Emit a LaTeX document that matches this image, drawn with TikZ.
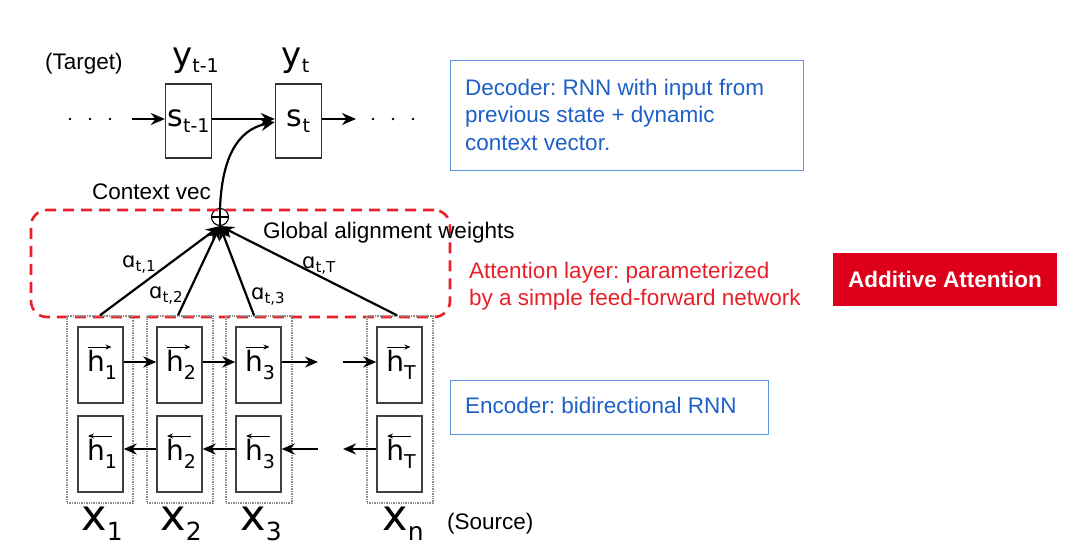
\documentclass[tikz,border=0pt]{standalone}
\usepackage{fontspec}
\setmainfont{Liberation Sans}
\newfontfamily\dvs{DejaVu Sans}
\usetikzlibrary{arrows.meta}
\definecolor{dblue}{RGB}{30,95,200}
\definecolor{bblue}{RGB}{95,150,225}
\definecolor{ared}{RGB}{232,32,42}
\definecolor{bred}{RGB}{222,0,26}
\frenchspacing
% symbol label: size, letter, subsize, lowering, subscript
\newcommand\lab[5]{{\dvs\fontsize{#1}{#1}\selectfont #2\raisebox{#4}{\fontsize{#3}{#3}\selectfont #5}}}
\newcommand\hlab[1]{\hspace{3pt}\lab{28}{h}{19}{-8pt}{#1}}
\newcommand\alab[1]{\lab{21}{ɑ}{15}{-4pt}{#1}}
\begin{document}
\begin{tikzpicture}[x=1pt,y=-1pt,
  txt/.style={font=\fontsize{22.5}{27.5}\selectfont, inner sep=0, anchor=base west},
  conn/.style={line width=2.2pt, -{Stealth[length=14pt,width=12pt]}},
  econn/.style={line width=2pt, -{Stealth[length=13pt,width=11pt]}},
  sbox/.style={draw=black!80, line width=1.3pt, minimum width=46pt, minimum height=74pt, inner sep=0},
  colbox/.style={draw=black!45, densely dotted, line width=1.4pt, minimum width=66pt, minimum height=187pt, inner sep=0},
  hbox/.style={draw=black!75, line width=1.4pt, minimum width=45pt, minimum height=76pt, inner sep=0},
  harr/.style={line width=1pt, -{Stealth[length=6pt,width=5pt]}},
  symb/.style={inner sep=0, anchor=base},
]
\useasboundingbox (0,0) rectangle (1084,548);

% ---------- decoder ----------
\node[txt] (target) at (45,70) {(Target)};
\node[sbox] (s1) at (188.5,121) {\lab{30}{s}{19}{-6pt}{t-1}};
\node[sbox] (s2) at (298.5,121) {\lab{30}{s}{19}{-6pt}{t}};
\node[symb] (y1) at (195.5,67) {\lab{34}{y}{19}{-6pt}{t-1}};
\node[symb] (y2) at (295.5,67) {\lab{34}{y}{19}{-6pt}{t}};
\foreach \x in {70,90,110,373,393,413} \fill (\x,119) circle (1.4);
\coordinate (lin) at (132,119);
\coordinate (rout) at (356,119);
\draw[conn] (lin) -- ([yshift=2pt]s1.west);
\draw[conn] ([yshift=2pt]s1.east) -- ([yshift=2pt]s2.west);
\draw[conn] ([yshift=2pt]s2.east) -- (rout);

% ---------- context ----------
\node[txt] (cv) at (92,200) {Context vec};
\node[draw, circle, minimum size=17pt, inner sep=0, line width=1.1pt] (sum) at (220,217) {};
\draw[line width=1.2pt] (sum.north) -- (sum.south) (sum.west) -- (sum.east);
\draw[conn] (sum.north) .. controls (222,160) and (236,130) .. ([yshift=-1pt]s2.west);

% ---------- attention layer ----------
\node[draw=ared, line width=2.6pt, dash pattern=on 11pt off 7pt, rounded corners=16pt,
      minimum width=419pt, minimum height=107pt, inner sep=0] (attn) at (240.5,263.5) {};
\node[txt] (gaw) at (263,238) {Global alignment weights};

% ---------- encoder ----------
\node[colbox] (c1) at (100,409.5) {};
\node[colbox] (c2) at (180,409.5) {};
\node[colbox] (c3) at (259,409.5) {};
\node[colbox] (c4) at (400,409.5) {};
\node[hbox] (hf1) at (100.5,365) {\hlab{1}};
\node[hbox] (hf2) at (179.5,365) {\hlab{2}};
\node[hbox] (hf3) at (258.5,365) {\hlab{3}};
\node[hbox] (hf4) at (399.5,365) {\hlab{T}};
\node[hbox] (hb1) at (100.5,454) {\hlab{1}};
\node[hbox] (hb2) at (179.5,454) {\hlab{2}};
\node[hbox] (hb3) at (258.5,454) {\hlab{3}};
\node[hbox] (hb4) at (399.5,454) {\hlab{T}};
\foreach \n in {hf1,hf2,hf3,hf4}
  \draw[harr] ([xshift=-12.5pt,yshift=18pt]\n.center) -- ([xshift=11pt,yshift=18pt]\n.center);
\foreach \n in {hb1,hb2,hb3,hb4}
  \draw[harr] ([xshift=11pt,yshift=18pt]\n.center) -- ([xshift=-12.5pt,yshift=18pt]\n.center);

\coordinate (fa) at (318,362);
\coordinate (fb) at (343,362);
\coordinate (ba) at (318,449);
\coordinate (bb) at (343,449);
\draw[econn] ([yshift=3pt]hf1.east) -- ([yshift=3pt]hf2.west);
\draw[econn] ([yshift=3pt]hf2.east) -- ([yshift=3pt]hf3.west);
\draw[econn] ([yshift=3pt]hf3.east) -- (fa);
\draw[econn] (fb) -- ([yshift=3pt]hf4.west);
\draw[econn] ([yshift=5pt]hb2.west) -- ([yshift=5pt]hb1.east);
\draw[econn] ([yshift=5pt]hb3.west) -- ([yshift=5pt]hb2.east);
\draw[econn] (ba) -- ([yshift=5pt]hb3.east);
\draw[econn] ([yshift=5pt]hb4.west) -- (bb);

\node[symb] (x1) at (102,530) {\lab{43}{x}{25}{-10pt}{1}};
\node[symb] (x2) at (181,530) {\lab{43}{x}{25}{-10pt}{2}};
\node[symb] (x3) at (261,530) {\lab{43}{x}{25}{-10pt}{3}};
\node[symb] (xn) at (403,530) {\lab{43}{x}{25}{-10pt}{n}};
\node[txt] (src) at (447,529) {(Source)};

% ---------- attention weights ----------
\draw[conn] ([xshift=-2pt]c2.north) -- (sum.south);
\draw[conn] (c1.north) -- (sum.south);
\draw[conn] ([xshift=-5pt]c3.north) -- (sum.south);
\draw[conn] ([xshift=-3pt]c4.north) -- (sum.south);
\node[inner sep=0, anchor=base west] (a1) at (122,267) {\alab{t,1}};
\node[inner sep=0, anchor=base west] (a2) at (149,298) {\alab{t,2}};
\node[inner sep=0, anchor=base west] (a3) at (251,299) {\alab{t,3}};
\node[inner sep=0, anchor=base west] (aT) at (302,268) {\alab{t,T}};

% ---------- annotations ----------
\node[draw=bblue, line width=1.2pt, minimum width=353pt, minimum height=110pt, inner sep=0,
      anchor=north west] (dec) at (450,60) {};
\node[txt, text=dblue, align=left, anchor=north west] (dect) at (465,78.5)
  {Decoder: RNN with input from\\previous state + dynamic\\context vector.};
\node[txt, text=ared, align=left, anchor=north west] (attt) at (469,261.5)
  {Attention layer: parameterized\\by a simple feed-forward network};
\node[fill=bred, minimum width=224pt, minimum height=53pt, inner sep=0, text=white,
      font=\fontsize{22.5}{27}\selectfont\bfseries] (add) at (945,279.5) {Additive Attention};
\node[draw=bblue, line width=1.2pt, minimum width=318pt, minimum height=54pt, inner sep=0,
      anchor=north west] (enc) at (450,380) {};
\node[txt, text=dblue] (enct) at (465,413) {Encoder: bidirectional RNN};
\end{tikzpicture}
\end{document}
